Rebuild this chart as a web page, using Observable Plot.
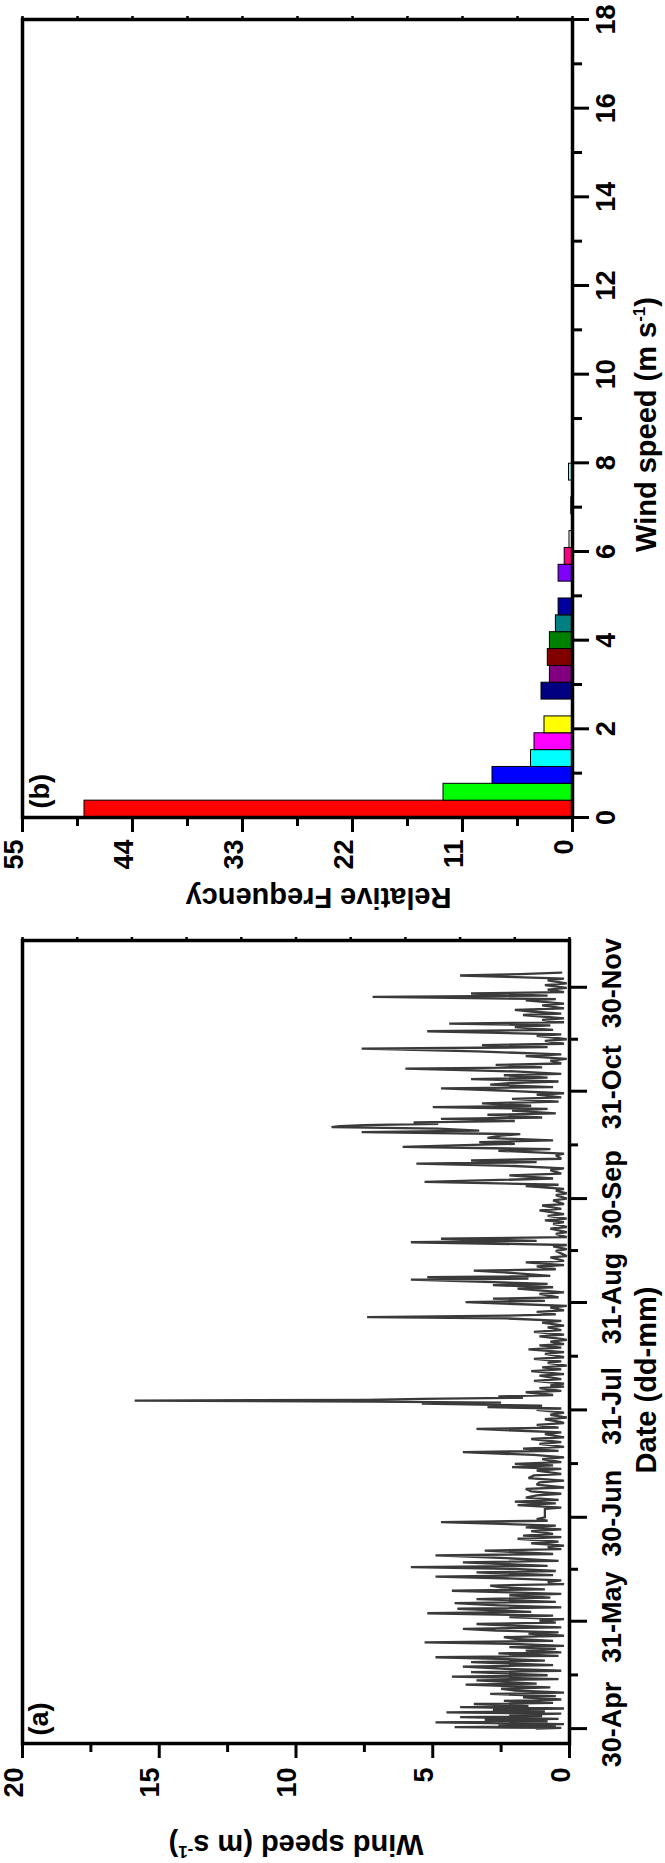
<!DOCTYPE html>
<html><head><meta charset="utf-8">
<script src="https://cdn.jsdelivr.net/npm/d3@7"></script>
<script src="https://cdn.jsdelivr.net/npm/@observablehq/plot@0.6"></script>
<style>
html,body{margin:0;padding:0;background:#fff;}
#chart{width:665px;height:1863px;overflow:hidden;}
#chart svg{display:block;}
</style></head><body><div id="chart"></div>
<script>
const FONT = "'Liberation Sans', Arial, Helvetica, sans-serif";

// ---------- Panel (b): histogram of wind speed ----------
const binWidth = 0.38;
const binFreq = [48.8, 12.9, 8.0, 4.15, 3.8, 2.8, 0, 3.1, 2.26, 2.47, 2.26, 1.66, 1.39, 0, 1.39, 0.78, 0.3, 0, 0.12, 0, 0.35];
const binColors = ["#FF0000","#00FF00","#0000FF","#00FFFF","#FF00FF","#FFFF00","#808000","#000080","#800080","#800000","#008000","#008080","#0000A0","#FF8000","#8000FF","#FF0080","#FFFFFF","#C0C0C0","#808080","#FFFF80","#80FFFF"];
const freqTicks = [0, 11, 22, 33, 44, 55];
const freqMinor = [5.5, 16.5, 27.5, 38.5, 49.5];
const freqTop = [0, 5.5, 11, 16.5, 22, 27.5, 33, 38.5, 44, 49.5, 55];
const histSpeedTicks = [0, 2, 4, 6, 8, 10, 12, 14, 16, 18];
const histSpeedMinor = [1, 3, 5, 7, 9, 11, 13, 15, 17];

// ---------- Panel (a): wind speed time series ----------
// [day after 30-Apr, wind speed m/s]
const windSeries = [
[0.0,1.2],[0.2,0.3],[0.4,4.2],[0.7,0.5],[1.0,2.6],[1.3,0.2],[1.8,4.9],[2.1,0.8],[2.5,3.1],[2.8,0.4],
[3.3,4.0],[3.6,1.0],[4.0,2.2],[4.3,0.3],[4.7,4.5],[5.0,0.9],[5.5,2.8],[5.8,0.2],[6.2,4.0],[6.5,1.5],
[7.1,3.5],[7.4,0.6],[8.0,2.4],[8.4,0.3],[9.0,1.7],[9.4,0.5],[10.0,2.9],[10.4,0.2],[11.0,2.0],[11.5,2.5],
[11.9,0.7],[12.7,3.8],[13.0,1.2],[13.9,3.4],[14.3,0.4],[15.0,4.3],[15.4,0.8],[16.3,3.6],[16.7,0.3],[17.3,2.5],
[17.9,3.9],[18.3,0.6],[19.2,3.6],[19.6,0.9],[20.0,2.0],[20.6,4.9],[21.0,0.4],[21.7,2.6],[22.0,0.3],[22.5,1.6],
[23.0,0.5],[23.5,2.2],[23.9,0.2],[24.4,1.8],[24.9,5.3],[25.3,0.6],[25.9,2.0],[26.4,2.4],[26.8,0.2],[27.4,1.5],
[27.8,0.4],[28.3,2.7],[28.8,3.9],[29.2,0.3],[29.7,2.1],[30.2,3.4],[30.6,0.5],[31.2,1.1],[31.6,0.2],[32.2,2.2],
[32.6,0.6],[33.3,5.2],[33.7,1.4],[34.6,4.1],[35.0,0.3],[35.6,2.6],[36.2,4.2],[36.6,0.5],[37.4,3.4],[37.8,0.7],
[38.5,2.2],[38.9,0.3],[39.8,4.3],[40.2,0.9],[40.8,2.5],[41.3,2.9],[41.7,0.2],[42.3,0.8],[42.8,0.3],[43.4,2.4],
[43.9,4.9],[44.3,0.6],[45.1,3.4],[45.5,0.5],[46.1,2.0],[46.6,5.8],[47.0,0.8],[48.0,3.9],[48.4,0.4],[49.2,2.3],
[50.0,4.9],[50.4,0.6],[51.4,3.1],[51.8,0.3],[52.4,0.8],[52.8,0.2],[53.5,1.4],[54.0,0.4],[54.8,1.9],[55.3,0.3],
[55.7,1.7],[56.2,0.6],[57.0,1.4],[57.5,0.3],[58.1,1.6],[58.6,0.5],[59.6,4.7],[60.0,0.8],[60.5,1.2],[61.0,0.9],
[63.4,0.9],[63.8,0.3],[64.5,1.9],[65.0,0.5],[65.5,2.0],[66.0,0.4],[66.7,1.6],[67.3,1.2],[67.8,0.3],[68.5,1.4],
[69.2,1.6],[69.6,0.2],[70.4,1.2],[71.1,1.1],[71.6,0.2],[72.3,1.5],[73.1,1.3],[73.5,0.3],[74.5,1.2],[75.0,0.3],
[75.5,2.1],[76.0,0.6],[76.4,2.0],[76.9,0.3],[77.8,1.0],[78.3,0.2],[79.0,1.3],[79.8,3.9],[80.2,0.4],[80.8,1.7],
[81.3,0.2],[82.2,1.1],[82.7,0.3],[83.6,1.4],[84.1,0.2],[85.0,0.9],[85.5,0.3],[86.5,3.4],[86.9,0.4],[87.7,1.2],
[88.2,0.2],[88.5,0.3],[89.3,0.9],[89.8,0.1],[90.6,0.7],[91.2,0.2],[92.0,1.2],[92.4,0.3],[92.8,3.0],[93.2,1.0],
[93.8,5.4],[94.1,2.5],[94.4,7.2],[94.7,15.9],[94.9,7.4],[95.2,5.4],[95.5,1.7],[95.9,2.6],[96.3,0.6],[97.1,1.6],
[97.5,0.3],[98.3,1.1],[98.7,0.2],[99.1,0.7],[99.6,0.2],[100.4,1.3],[100.9,0.3],[101.9,1.1],[102.3,0.2],[103.2,1.4],
[103.7,0.3],[104.3,1.0],[104.8,0.1],[105.6,0.8],[106.0,0.3],[106.7,1.3],[107.2,0.2],[108.2,0.9],[108.7,0.2],[109.5,1.5],
[110.0,0.3],[110.6,1.1],[111.0,0.2],[111.7,0.7],[112.2,0.1],[112.5,0.3],[113.2,1.1],[113.7,0.2],[114.5,1.3],[115.0,0.3],
[115.8,0.8],[116.3,0.2],[117.2,1.0],[117.7,0.3],[118.4,2.3],[118.8,7.4],[119.2,2.3],[119.6,0.5],[120.3,1.2],[120.7,0.2],
[121.5,0.7],[122.0,0.1],[123.1,3.8],[123.5,0.9],[124.1,2.8],[124.5,0.4],[125.5,1.1],[125.9,0.2],[127.0,1.9],[127.4,0.6],
[128.0,2.8],[128.4,0.8],[129.6,5.8],[129.9,1.5],[130.3,5.2],[130.7,0.7],[131.7,2.4],[132.2,3.5],[132.6,0.5],[133.4,1.2],
[133.8,0.2],[134.6,1.6],[135.0,0.2],[136.0,0.7],[136.4,0.1],[137.9,0.5],[138.4,0.1],[139.2,0.6],[139.6,0.1],[140.4,5.8],
[140.8,1.2],[141.4,4.7],[141.9,0.1],[142.8,0.5],[143.3,0.1],[144.3,0.7],[144.8,0.1],[145.7,0.6],[146.2,0.2],[146.7,0.9],
[147.2,0.1],[148.0,0.8],[148.5,0.2],[149.6,1.1],[150.0,0.3],[151.0,1.0],[151.4,0.2],[152.5,0.6],[153.0,0.1],[154.0,0.5],
[154.5,0.1],[155.3,0.5],[155.8,0.2],[156.6,1.6],[157.0,0.4],[157.8,5.3],[158.3,2.9],[158.8,0.6],[159.7,2.2],[160.2,0.3],
[161.2,0.7],[161.7,0.2],[162.4,2.0],[163.1,5.6],[163.5,1.2],[164.0,3.6],[164.5,0.3],[165.5,0.5],[166.0,0.2],[166.8,2.6],
[167.3,0.7],[167.9,6.1],[168.3,4.5],[168.8,2.0],[169.3,3.3],[169.8,0.6],[170.5,3.0],[171.2,2.5],[171.6,1.8],[172.2,7.6],
[172.6,3.3],[173.2,4.8],[173.6,8.7],[173.9,8.4],[174.2,7.5],[174.6,4.8],[175.0,5.7],[175.4,2.0],[176.0,4.7],[176.4,1.0],
[177.2,3.0],[177.6,0.5],[178.4,2.1],[178.9,0.8],[179.4,5.0],[179.8,1.4],[180.5,3.2],[181.0,0.4],[181.8,2.1],[182.2,0.3],
[183.0,1.2],[183.4,0.2],[184.2,2.5],[184.8,4.7],[185.2,0.6],[185.9,2.9],[186.3,2.2],[186.8,0.4],[187.5,3.6],[187.9,0.8],
[188.6,2.4],[189.0,0.3],[189.7,2.0],[190.5,6.0],[190.9,1.0],[191.6,2.7],[192.0,0.3],[192.8,0.7],[193.3,0.1],[194.1,1.6],
[194.6,0.3],[195.5,3.4],[196.3,7.6],[196.7,0.8],[197.3,3.2],[197.7,0.2],[198.5,0.9],[199.0,0.1],[200.0,1.2],[200.4,0.3],
[201.3,5.2],[201.7,0.6],[202.5,2.0],[203.0,0.7],[203.5,4.4],[203.9,0.2],[204.6,1.0],[205.0,0.2],[206.0,1.7],[206.4,0.3],
[207.0,1.4],[207.5,2.0],[207.9,0.2],[208.8,1.0],[209.3,0.2],[210.2,1.6],[210.6,0.5],[211.2,7.2],[211.6,0.8],[212.2,3.6],
[212.6,0.2],[213.3,0.8],[213.8,0.1],[214.6,0.9],[215.1,0.1],[216.0,0.8],[216.5,0.2],[217.0,2.3],[217.4,4.0],[217.8,1.8],
[218.2,0.3]
];
const dateTickDays = [0, 31, 61, 92, 123, 153, 184, 214];
const dateTickLabels = ["30-Apr", "31-May", "30-Jun", "31-Jul", "31-Aug", "30-Sep", "31-Oct", "30-Nov"];
const dateMinorDays = [15.5, 46, 76.5, 107.5, 138, 168.5, 199];
const speedTicks = [0, 5, 10, 15, 20];
const speedMinor = [2.5, 7.5, 12.5, 17.5];
const speedTop = [0, 2, 4, 6, 8, 10, 12, 14, 16, 18, 20];

const txt = {fontFamily: FONT, fontWeight: "bold", fill: "black"};
const tickOpts = {stroke: "black", strokeWidth: 3, tickFormat: () => "", label: null};

// ---------- build panel (b) ----------
const bars = binFreq.map((f, i) => ({lo: i * binWidth, hi: (i + 1) * binWidth, f, color: binColors[i]})).filter(d => d.f > 0);

const plotB = Plot.plot({
  width: 665, height: 920,
  marginTop: 19, marginBottom: 103, marginLeft: 22, marginRight: 93,
  style: {fontFamily: FONT, background: "white"},
  x: {domain: [0, 55], reverse: true, axis: null},
  y: {domain: [0, 18], axis: null},
  color: {type: "identity"},
  marks: [
    Plot.rect(bars, {x1: () => 0, x2: "f", y1: "lo", y2: "hi", fill: "color", stroke: "black", strokeWidth: 1}),
    Plot.axisX({anchor: "bottom", ticks: freqTicks, tickSize: 15, ...tickOpts}),
    Plot.axisX({anchor: "bottom", ticks: freqMinor, tickSize: 9, ...tickOpts}),
    Plot.axisX({anchor: "top", ticks: freqTop, tickSize: 4, ...tickOpts, strokeWidth: 2.5}),
    Plot.axisY({anchor: "right", ticks: histSpeedTicks, tickSize: 16, ...tickOpts}),
    Plot.axisY({anchor: "right", ticks: histSpeedMinor, tickSize: 9, ...tickOpts}),
    Plot.frame({stroke: "black", strokeWidth: 3.5}),
    Plot.text(freqTicks, {x: d => d, text: d => String(d), frameAnchor: "bottom", dy: 22, rotate: -90, textAnchor: "end", fontSize: 27, ...txt}),
    Plot.text(histSpeedTicks, {y: d => d, text: d => String(d), frameAnchor: "right", dx: 34, rotate: -90, textAnchor: "middle", fontSize: 27, ...txt}),
    Plot.text(["Relative Frequency"], {text: d => d, frameAnchor: "bottom", dx: 21, dy: 70, rotate: 180, textAnchor: "middle", fontSize: 29, ...txt}),
    Plot.text(["Wind speed (m s-1)"], {text: d => d, frameAnchor: "right", dx: 74, dy: 6, rotate: -90, textAnchor: "middle", fontSize: 29, ...txt}),
    Plot.text(["(b)"], {text: d => d, frameAnchor: "bottom-left", dx: 26, dy: -9, rotate: -90, textAnchor: "start", fontSize: 27, ...txt})
  ]
});

// ---------- build panel (a) ----------
const series = windSeries.map(([d, v]) => ({d, v}));

const plotA = Plot.plot({
  width: 665, height: 943,
  marginTop: 20, marginBottom: 120, marginLeft: 22, marginRight: 96,
  style: {fontFamily: FONT, background: "white"},
  x: {domain: [0, 20], reverse: true, axis: null},
  y: {domain: [-4.3, 227.5], axis: null},
  marks: [
    Plot.line(series, {x: "v", y: "d", stroke: "#3a3a3a", strokeWidth: 2.3, strokeLinejoin: "miter", strokeMiterlimit: 2}),
    Plot.axisX({anchor: "bottom", ticks: speedTicks, tickSize: 15, ...tickOpts}),
    Plot.axisX({anchor: "bottom", ticks: speedMinor, tickSize: 9, ...tickOpts}),
    Plot.axisX({anchor: "top", ticks: speedTop, tickSize: 4, ...tickOpts, strokeWidth: 2.5}),
    Plot.axisY({anchor: "right", ticks: dateTickDays, tickSize: 17, ...tickOpts}),
    Plot.axisY({anchor: "right", ticks: dateMinorDays, tickSize: 8, ...tickOpts}),
    Plot.frame({stroke: "black", strokeWidth: 3.5}),
    Plot.text(speedTicks, {x: d => d, text: d => String(d), frameAnchor: "bottom", dy: 24, rotate: -90, textAnchor: "end", fontSize: 27, ...txt}),
    Plot.text(dateTickDays, {y: d => d, text: (d, i) => dateTickLabels[i], frameAnchor: "right", dx: 43, dy: -4, rotate: -90, textAnchor: "middle", fontSize: 27, ...txt}),
    Plot.text(["Wind speed (m s-1)"], {text: d => d, frameAnchor: "bottom", dy: 91, rotate: 180, textAnchor: "middle", fontSize: 29, ...txt}),
    Plot.text(["Date (dd-mm)"], {text: d => d, frameAnchor: "right", dx: 77, dy: 38, rotate: -90, textAnchor: "middle", fontSize: 29, ...txt}),
    Plot.text(["(a)"], {text: d => d, frameAnchor: "bottom-left", dx: 25, dy: -8, rotate: -90, textAnchor: "start", fontSize: 27, ...txt})
  ]
});

const host = document.getElementById("chart");
host.appendChild(plotB);
host.appendChild(plotA);

// superscript for unit labels
document.querySelectorAll("#chart text").forEach(t => {
  if (t.textContent === "Wind speed (m s-1)") {
    t.innerHTML = 'Wind speed (m s<tspan dy="-11" font-size="17">-1</tspan><tspan dy="11">)</tspan>';
  }
});
</script></body></html>
